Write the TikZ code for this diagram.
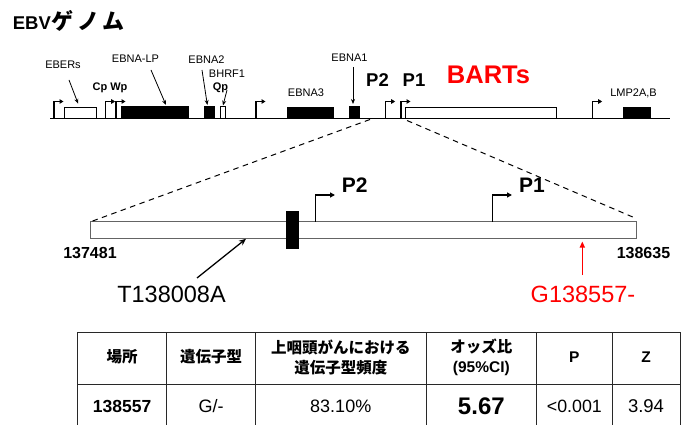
\documentclass[tikz,border=0pt]{standalone}
\usepackage{fontspec}
\setmainfont{Liberation Sans}
\newfontfamily\jp{Noto Sans CJK JP}
\usetikzlibrary{arrows.meta,calc}
\definecolor{barred}{RGB}{255,0,0}
\definecolor{bargray}{RGB}{100,100,100}
\definecolor{tblline}{RGB}{40,40,40}
\newcommand\fsz[1]{\fontsize{#1}{#1}\selectfont}
\begin{document}
\begin{tikzpicture}[x=1pt,y=-1pt,
  lbl/.style={inner sep=0pt, font=\fsz{11}},
  blbl/.style={inner sep=0pt, font=\fsz{11}\bfseries},
  plbl/.style={inner sep=0pt, font=\fsz{18.5}\bfseries},
  mplbl/.style={inner sep=0pt, font=\fsz{21}\bfseries},
  numlbl/.style={inner sep=0pt, font=\fsz{16}\bfseries},
  snplbl/.style={inner sep=0pt, font=\fsz{23.5}},
  blk/.style={fill=black, draw=none, inner sep=0pt, outer sep=0pt, anchor=south west},
  opn/.style={draw=black, fill=white, line width=0.8pt, inner sep=0pt, outer sep=0pt, anchor=south west},
  midbar/.style={draw=bargray, fill=white, line width=1pt, inner sep=0pt, outer sep=0pt, anchor=north west},
  prom/.style={line width=1.2pt, -{Triangle[length=4pt,width=4.5pt]}},
  mprom/.style={line width=1.4pt, -{Triangle[length=5pt,width=5pt]}},
  lbarrow/.style={line width=0.8pt, -{Stealth[length=5pt,width=4pt]}},
  snparrow/.style={line width=1.3pt, -{Stealth[length=7pt,width=6pt]}},
  redarrow/.style={draw=barred, line width=1.3pt, -{Triangle[length=6pt,width=5pt]}},
  genome/.style={line width=1.5pt},
  zoomln/.style={line width=1pt, dash pattern=on 5.5pt off 4.5pt},
  tbl/.style={draw=tblline, line width=0.9pt},
  hcell/.style={inner sep=0pt, font=\fontsize{15.5}{20}\selectfont\bfseries, align=center},
  dcell/.style={inner sep=0pt, font=\fsz{18}}
]
\useasboundingbox (0,0) rectangle (683,425);

% title
\node[inner sep=0pt, anchor=west] (title) at (12.7,21) {\fsz{18.5}\bfseries EBV{\jp\fsz{22}\hspace{1pt}ゲ\hspace{3.5pt}ノ\hspace{3.5pt}ム}};

% genome line
\coordinate (gL) at (50,118.5);
\coordinate (gR) at (670,118.5);
\draw[genome] (gL) -- (gR);

% boxes
\node[opn, minimum width=31.7pt, minimum height=10.8pt] (ebersbox) at (64.3,118.5) {};
\node[blk, minimum width=68pt, minimum height=12.5pt] (lp) at (121,118.5) {};
\node[blk, minimum width=11.3pt, minimum height=12.5pt] (eb2box) at (203.7,118.5) {};
\node[opn, minimum width=5pt, minimum height=12.5pt] (qpbox) at (220,118.5) {};
\node[blk, minimum width=47.6pt, minimum height=11.8pt] (eb3box) at (286.7,118.5) {};
\node[blk, minimum width=11pt, minimum height=12.5pt] (eb1box) at (349,118.5) {};
\node[opn, minimum width=151pt, minimum height=10.8pt] (bartsbox) at (405.7,118.5) {};
\node[blk, minimum width=27.4pt, minimum height=11.8pt] (lmpbox) at (623.3,118.5) {};

% promoters (top)
\foreach \n/\x in {pE/54, pC/105.7, pW/116, pB/256, pPtwo/385.7, pPone/401, pL/592.7} {
  \coordinate (\n) at (\x,118.5);
  \draw[prom] (\n) -- ++(0,-17) -- ++(9.5,0);
}

% top labels
\node[lbl] (ebers) at (63,65) {EBERs};
\node[blbl] (cpwp) at (110,88) {Cp Wp};
\node[lbl] (eblp) at (135.5,59) {EBNA-LP};
\node[lbl] (eb2) at (206.5,60) {EBNA2};
\node[lbl] (bhrf) at (227,74) {BHRF1};
\node[blbl] (qp) at (220.5,88) {Qp};
\node[lbl] (eb3) at (306,93) {EBNA3};
\node[lbl] (eb1) at (349.5,58) {EBNA1};
\node[plbl] (p2t) at (377.5,80) {P2};
\node[plbl] (p1t) at (414,80) {P1};
\node[inner sep=0pt, font=\fsz{25.5}\bfseries, text=barred] (barts) at (488.5,75) {BARTs};
\node[lbl] (lmp) at (633.5,93) {LMP2A,B};

% label arrows
\draw[lbarrow] ($(ebers.center)+(6,15)$) -- ($(ebersbox.north)+(-2,-4)$);
\draw[lbarrow] ($(eblp.center)+(15.5,11)$) -- ($(lp.north)+(11,-1)$);
\draw[lbarrow] ($(eb2.center)+(-4.5,10)$) -- ($(eb2box.north)+(-2,-1)$);
\draw[lbarrow] ($(qp.center)+(6.5,2)$) -- ($(qpbox.north)+(0.5,-0.5)$);
\draw[lbarrow] ($(eb1.center)+(3.5,9)$) -- ($(eb1box.north)+(-1.5,-2)$);

% zoomed region
\node[midbar, minimum width=546pt, minimum height=16.6pt] (bar) at (90.7,221.7) {};
\node[blk, anchor=north west, minimum width=12.7pt, minimum height=38.3pt] (blkm) at (286,210.7) {};
\coordinate (mPtwo) at (315.7,221.7);
\coordinate (mPone) at (492.7,221.7);
\draw[mprom] (mPtwo) -- ++(0,-26.7) -- ++(19.3,0);
\draw[mprom] (mPone) -- ++(0,-26.7) -- ++(19.3,0);
\node[mplbl] (p2m) at (354.7,185) {P2};
\node[mplbl] (p1m) at (532,185) {P1};

\coordinate (zL) at (370,119.5);
\coordinate (zR) at (407,120.5);
\draw[zoomln] (zL) -- (bar.north west);
\draw[zoomln] (zR) -- ($(bar.north east)+(0,-3)$);

\node[numlbl] (nL) at (90,253) {137481};
\node[numlbl] (nR) at (643.5,253) {138635};

\node[snplbl] (t138) at (171.5,294) {T138008A};
\node[snplbl, text=barred] (g138) at (583,294) {G138557-};
\coordinate (snpT) at (246,238.8);
\coordinate (snpG) at (582.3,241.5);
\draw[snparrow] ($(t138.center)+(25.5,-16)$) -- (snpT);
\draw[redarrow] ($(g138.center)+(-0.7,-19)$) -- (snpG);

% table
\draw[tbl] (77.5,332.3) rectangle (680,440);
\draw[tbl] (77.5,384.3) -- (680,384.3);
\foreach \x in {166.7,255.5,426,536.7,612} \draw[tbl] (\x,332.3) -- (\x,440);

\node[hcell] (h1) at (122.1,357) {\jp 場所};
\node[hcell] (h2) at (211.1,357) {\jp 遺伝子型};
\node[hcell] (h3) at (340.75,357) {\jp 上咽頭がんにおける\\\jp 遺伝子型頻度};
\node[hcell] (h4) at (481.35,357) {\jp オッズ比\\(95\%CI)};
\node[hcell] (h5) at (574.35,357) {P};
\node[hcell] (h6) at (646,357) {Z};

\node[dcell, font=\fsz{17.5}\bfseries] (d1) at (122.1,406) {138557};
\node[dcell] (d2) at (211.1,406) {G/-};
\node[dcell] (d3) at (340.75,406) {83.10\%};
\node[dcell, font=\fsz{24}\bfseries] (d4) at (481.35,406) {5.67};
\node[dcell, font=\fsz{17.8}] (d5) at (574.35,406) {<0.001};
\node[dcell, font=\fsz{18.5}] (d6) at (646,406) {3.94};
\end{tikzpicture}
\end{document}
